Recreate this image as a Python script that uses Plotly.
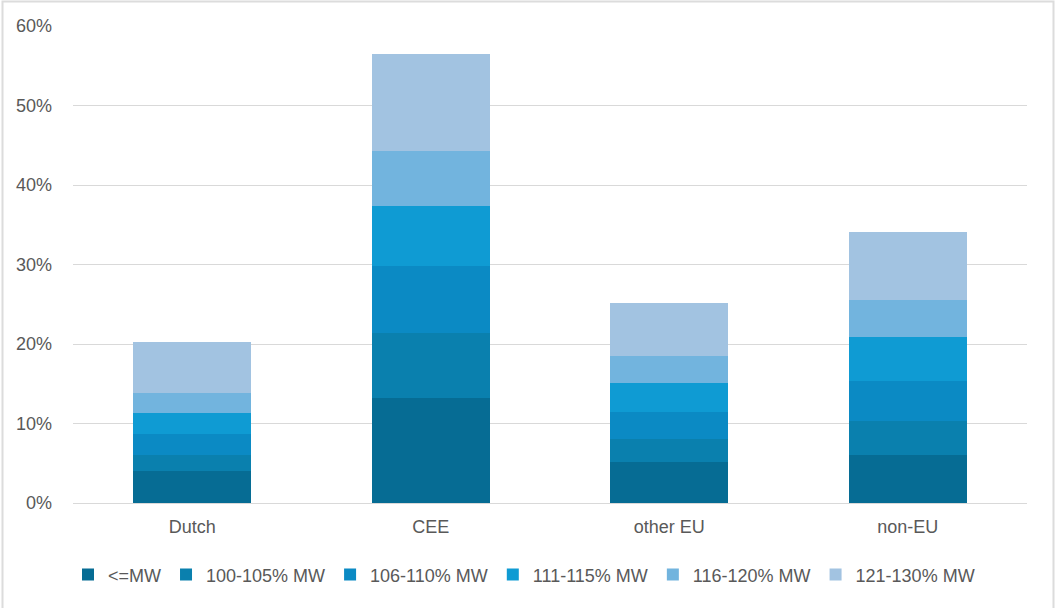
import plotly.graph_objects as go

# Share of workers by wage band, per origin group
categories = ["Dutch", "CEE", "other EU", "non-EU"]
series_names = ["<=MW", "100-105% MW", "106-110% MW", "111-115% MW", "116-120% MW", "121-130% MW"]

le_mw = [4.0, 13.2, 5.15, 6.0]
mw_100_105 = [2.1, 8.2, 2.85, 4.3]
mw_106_110 = [2.6, 8.4, 3.45, 5.0]
mw_111_115 = [2.6, 7.5, 3.65, 5.6]
mw_116_120 = [2.6, 7.0, 3.4, 4.6]
mw_121_130 = [6.4, 12.2, 6.7, 8.65]

series_values = [le_mw, mw_100_105, mw_106_110, mw_111_115, mw_116_120, mw_121_130]
colors = ["#066c94", "#0a80ae", "#0b8ac4", "#0f9bd3", "#72b4de", "#a2c3e1"]

fig = go.Figure()
for name, vals, col in zip(series_names, series_values, colors):
    fig.add_trace(go.Bar(
        name=name,
        x=categories,
        y=[v / 100 for v in vals],
        marker=dict(color=col, line=dict(width=0)),
    ))

FONT = "Liberation Sans, Arial, sans-serif"

fig.update_layout(
    barmode="stack",
    bargap=0.505,
    width=1055,
    height=608,
    margin=dict(l=73, r=28, t=26, b=105),
    paper_bgcolor="white",
    plot_bgcolor="white",
    font=dict(family=FONT, size=18, color="#595959"),
    xaxis=dict(
        showline=False,
        ticks="",
        tickfont=dict(size=18, color="#595959"),
        ticklabelstandoff=11,
    ),
    yaxis=dict(
        range=[0, 0.6],
        tickvals=[0, 0.1, 0.2, 0.3, 0.4, 0.5, 0.6],
        tickformat=".0%",
        showgrid=True,
        gridcolor="#d9d9d9",
        gridwidth=1.4,
        zeroline=True,
        zerolinecolor="#d9d9d9",
        zerolinewidth=1.4,
        ticks="",
        ticklabelstandoff=20,
        tickfont=dict(size=18, color="#595959"),
    ),
    legend=dict(
        orientation="h",
        x=(68 - 73) / 954,
        xanchor="left",
        y=-0.112,
        yanchor="top",
        traceorder="normal",
        font=dict(size=18, color="#595959"),
        itemwidth=30,
    ),
    showlegend=True,
)

# Light frame around the whole chart
fig.add_shape(
    type="rect",
    xref="paper", yref="paper",
    x0=(2.5 - 73) / 954, x1=(1053.5 - 73) / 954,
    y0=(503 - 612) / 477, y1=(503 - 1.5) / 477,
    line=dict(color="#dcdcdc", width=2),
    fillcolor="rgba(0,0,0,0)",
    layer="below",
)

fig.write_html("out.html")
